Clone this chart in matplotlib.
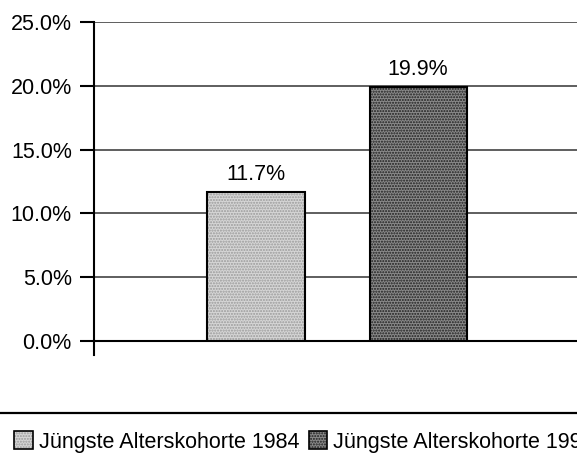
import matplotlib
matplotlib.use("Agg")
import matplotlib.pyplot as plt
from matplotlib.patches import Patch
from matplotlib.lines import Line2D
from matplotlib.legend_handler import HandlerTuple

plt.rcParams["font.family"] = ["Liberation Sans", "DejaVu Sans"]
plt.rcParams["hatch.linewidth"] = 1.0

# data
series = ["Jüngste Alterskohorte 1984", "Jüngste Alterskohorte 1998"]
values = [11.7, 19.9]
yticks = [0, 5, 10, 15, 20, 25]

FACES = ["#d6d6d6", "#8a8a8a"]
HATCH_COL = ["#9a9a9a", "#1e1e1e"]
HATCHES = ["......", "......"]

fig = plt.figure(figsize=(5.77, 4.70), dpi=100, facecolor="white")
ax = fig.add_axes([94 / 577, 129 / 470, 1 - 94 / 577, 319 / 470])

pos = list(range(len(values)))
w = 0.6
for i, v in enumerate(values):
    ax.bar(pos[i], v, w, color=FACES[i], hatch=HATCHES[i], edgecolor=HATCH_COL[i], lw=0, zorder=3)
    ax.bar(pos[i], v, w, facecolor="none", edgecolor="black", lw=1.5, zorder=4)
    ax.annotate(f"{v:.1f}%", (pos[i], v), xytext=(0, 5), textcoords="offset points",
                ha="center", va="bottom", fontsize=15.5)

ax.set_xlim(-1.0, 1.98)
ax.set_ylim(0, 25)
ax.set_yticks(yticks)
ax.set_yticklabels([f"{t:.1f}%" for t in yticks], fontsize=15.5)
ax.set_xticks([])
ax.tick_params(axis="y", length=10, width=1.5, pad=6, color="black")
ax.yaxis.grid(True, color="#333333", lw=1.1)
ax.set_axisbelow(True)
for s in ["top", "right"]:
    ax.spines[s].set_visible(False)
ax.spines["left"].set_linewidth(1.5)
ax.spines["bottom"].set_linewidth(1.5)
# axis stub below zero
ax.plot([0, 0], [0, -1.1], transform=ax.get_yaxis_transform(), clip_on=False, color="black", lw=1.5)

# separator line above legend
fig.add_artist(Line2D([0, 1], [57 / 470, 57 / 470], color="black", lw=1.6, transform=fig.transFigure))

handles = []
for i in range(len(values)):
    fill = Patch(facecolor=FACES[i], hatch=HATCHES[i], edgecolor=HATCH_COL[i], lw=0)
    border = Patch(facecolor="none", edgecolor="black", lw=1.2)
    handles.append((fill, border))
fig.legend(handles, series, loc="center left", bbox_to_anchor=(14 / 577, 28 / 470), ncol=2,
           frameon=False, fontsize=15.5, handlelength=0.88, handleheight=0.9,
           handletextpad=0.28, columnspacing=0.42, borderaxespad=0, borderpad=0,
           handler_map={tuple: HandlerTuple(ndivide=1)})

fig.savefig("out.png", dpi=100, facecolor="white")
